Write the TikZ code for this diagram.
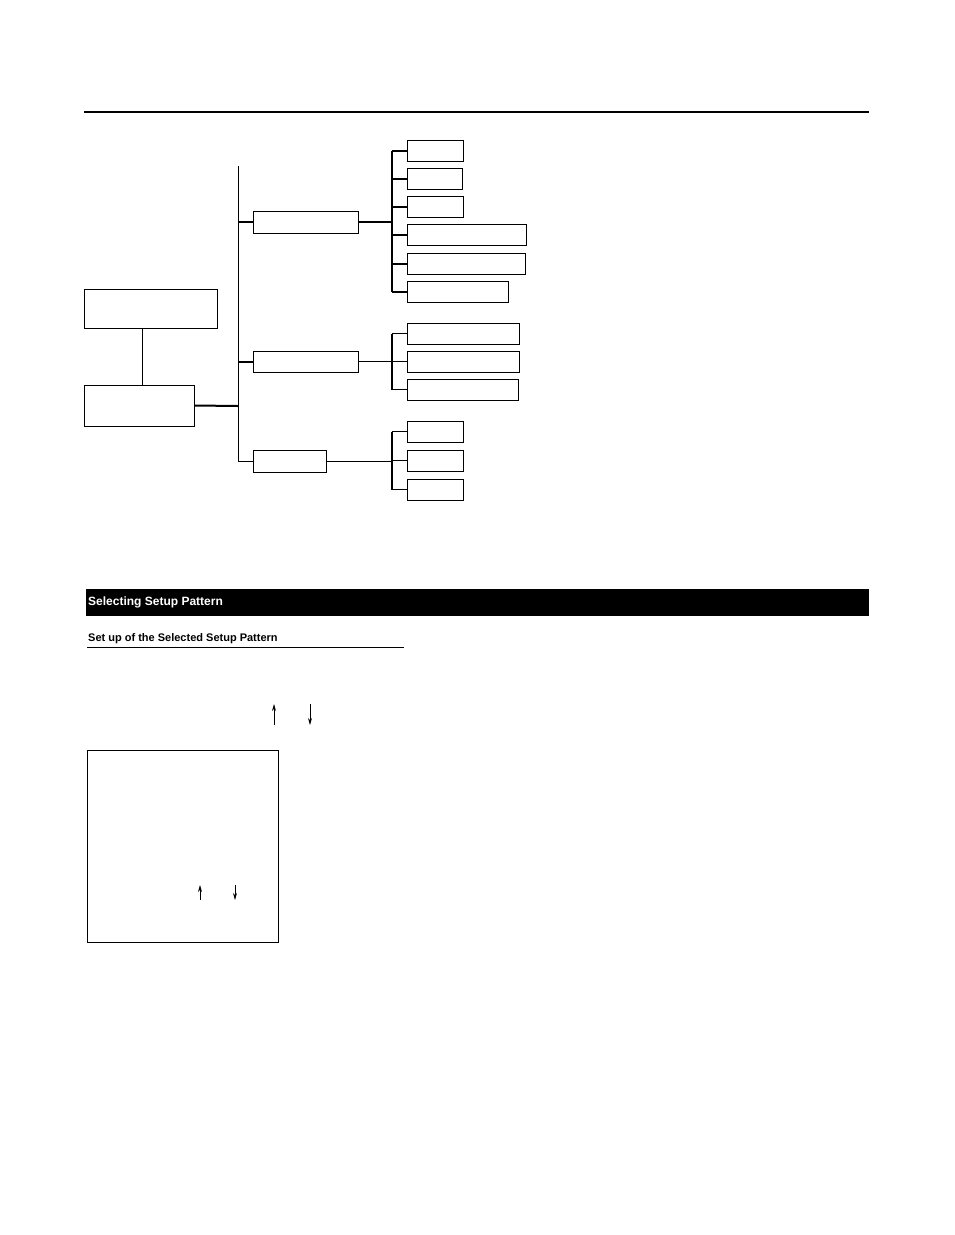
\documentclass[tikz,border=0pt]{standalone}
\usepackage{fontspec}
\setmainfont{Liberation Sans}
\usetikzlibrary{arrows.meta}
\begin{document}
\begin{tikzpicture}[x=1pt,y=-1pt,
 bx/.style={draw,line width=0.9pt},
 thin/.style={line width=0.9pt},
 thick2/.style={line width=2pt},
 arr/.style={line width=0.8pt,-{Stealth[length=7pt,width=4pt]}}]
\useasboundingbox (0,0) rectangle (954,1235);
\draw[line width=1.6pt] (84,112) -- (869,112);
\node[bx,minimum width=133pt,minimum height=39pt,inner sep=0pt] (top) at (150.5,308.5) {};
\node[bx,minimum width=110pt,minimum height=41pt,inner sep=0pt] (root) at (139,405.5) {};
\draw[thin] (142,328) -- (142,385);
\coordinate (tT) at (238,166); \coordinate (tB) at (238,461);
\draw[thin] (tT) -- (tB);
\draw[thick2] (root.east) -- (238,406);
\node[bx,minimum width=105pt,minimum height=22pt,inner sep=0pt] (A) at (305.5,222) {};
\node[bx,minimum width=105pt,minimum height=21pt,inner sep=0pt] (B) at (305.5,361.5) {};
\node[bx,minimum width=73pt,minimum height=22pt,inner sep=0pt] (C) at (289.5,461) {};
\draw[thick2] (238,222) -- (A.west);
\draw[thick2] (238,361.5) -- (B.west);
\draw[thin] (238,461) -- (C.west);
\draw[thick2] (A.east) -- (392,222);
\draw[thin] (B.east) -- (392,361.5);
\draw[thin] (C.east) -- (392,461);
\foreach \n/\y/\w in {a1/151/56,a2/179/55,a3/207/56,a4/235/119,a5/263.5/118,a6/291.5/101,
 b1/333.5/112,b2/361.5/112,b3/389.5/111,c1/431.5/56,c2/460.5/56,c3/489.5/56}{
 \node[bx,minimum width=\w pt,minimum height=21pt,inner sep=0pt,anchor=west] (\n) at (407,\y) {};
}
\draw[thick2] (392,151) -- (392,291.5);
\foreach \n in {a1,a2,a3,a4,a5,a6} \draw[thick2] (392,0|-\n.west) -- (\n.west);
\draw[thick2] (392,333.5) -- (392,389.5);
\foreach \n in {b1,b2,b3} \draw[thin] (392,0|-\n.west) -- (\n.west);
\draw[thick2] (392,431.5) -- (392,489.5);
\foreach \n in {c1,c2,c3} \draw[thin] (392,0|-\n.west) -- (\n.west);
\node[fill=black,minimum width=783pt,minimum height=27pt,inner sep=0pt,anchor=north west] (bar) at (86,589) {};
\node[text=white,font=\bfseries\fontsize{12}{14}\selectfont,anchor=west,inner sep=0pt] (h1) at (88,602.5) {Selecting Setup Pattern};
\node[font=\bfseries\fontsize{11}{13}\selectfont,anchor=west,inner sep=0pt] (h2) at (88,639) {Set up of the Selected Setup Pattern};
\draw[line width=0.9pt] (87,647.5) -- (404,647.5);
\coordinate (u1) at (274,725); \coordinate (u2) at (274,704);
\draw[arr] (u1) -- (u2);
\coordinate (d1) at (310,704); \coordinate (d2) at (310,725);
\draw[arr] (d1) -- (d2);
\node[draw,line width=1.2pt,minimum width=191pt,minimum height=192pt,inner sep=0pt,anchor=north west] (scr) at (87,750) {};
\coordinate (s1) at (200,900); \coordinate (s2) at (200,885);
\draw[arr] (s1) -- (s2);
\coordinate (s3) at (235,885); \coordinate (s4) at (235,900);
\draw[arr] (s3) -- (s4);
\end{tikzpicture}
\end{document}
